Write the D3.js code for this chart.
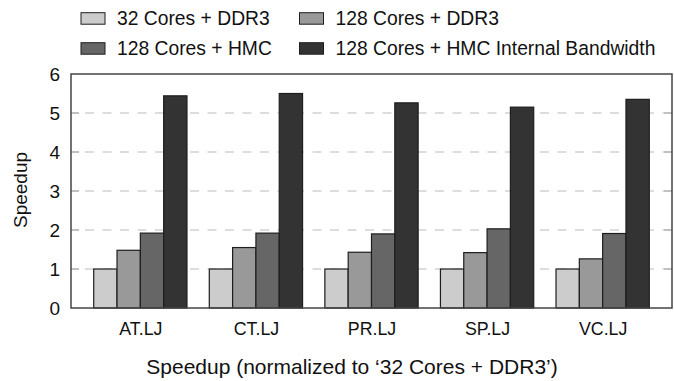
<!DOCTYPE html>
<html>
<head>
<meta charset="utf-8">
<script src="https://cdn.jsdelivr.net/npm/d3@7"></script>
<style>
  body { margin: 0; background: #fff; }
  text { font-family: "Liberation Sans", Arial, Helvetica, sans-serif; fill: #111; }
</style>
</head>
<body>
<svg id="chart" width="674" height="381"></svg>
<script>
var categories = ["AT.LJ", "CT.LJ", "PR.LJ", "SP.LJ", "VC.LJ"];
var seriesNames = ["32 Cores + DDR3", "128 Cores + DDR3", "128 Cores + HMC", "128 Cores + HMC Internal Bandwidth"];
var cores32ddr3 = [1, 1, 1, 1, 1];
var cores128ddr3 = [1.48, 1.55, 1.43, 1.42, 1.26];
var cores128hmc = [1.92, 1.92, 1.90, 2.03, 1.91];
var cores128hmcInt = [5.44, 5.50, 5.26, 5.15, 5.35];
var yTicks = [0, 1, 2, 3, 4, 5, 6];
var colors = ["#cccccc", "#999999", "#666666", "#333333"];

var series = [cores32ddr3, cores128ddr3, cores128hmc, cores128hmcInt];

var svg = d3.select("#chart"),
    margin = {top: 74, right: 2, bottom: 73, left: 71},
    width = +svg.attr("width") - margin.left - margin.right,
    height = +svg.attr("height") - margin.top - margin.bottom;

var x0 = d3.scalePoint().domain(categories).range([0, width]).padding(0.6);
var groupW = x0.step() * 0.807;
var x1 = d3.scaleBand().domain(d3.range(series.length)).range([-groupW / 2, groupW / 2]).padding(0);
var y = d3.scaleLinear().domain([0, 6]).range([height, 0]);

var g = svg.append("g").attr("transform", "translate(" + margin.left + "," + margin.top + ")");

// dashed grid
g.selectAll(".grid")
  .data(yTicks.filter(function(d) { return d > 0 && d < 6; }))
  .enter().append("line")
    .attr("x1", 8).attr("x2", width - 8)
    .attr("y1", function(d) { return y(d); })
    .attr("y2", function(d) { return y(d); })
    .attr("stroke", "#d2d2d2")
    .attr("stroke-width", 1.3)
    .attr("stroke-dasharray", "9,8.5")
    .attr("stroke-dashoffset", -6);

// inward ticks left and right
[0, width].forEach(function(xx, k) {
  g.selectAll(".tk" + k)
    .data(yTicks.filter(function(d) { return d > 0 && d < 6; }))
    .enter().append("line")
      .attr("x1", xx).attr("x2", k ? xx - 8 : xx + 8)
      .attr("y1", function(d) { return y(d); })
      .attr("y2", function(d) { return y(d); })
      .attr("stroke", "#a0a0a0")
      .attr("stroke-width", 1.3);
});

// bars
var groups = g.selectAll(".grp")
  .data(categories)
  .enter().append("g")
    .attr("transform", function(d) { return "translate(" + x0(d) + ",0)"; });

groups.selectAll("rect")
  .data(function(d, i) { return series.map(function(s, j) { return {j: j, v: s[i]}; }); })
  .enter().append("rect")
    .attr("x", function(d) { return x1(d.j); })
    .attr("width", x1.bandwidth())
    .attr("y", function(d) { return y(d.v); })
    .attr("height", function(d) { return height - y(d.v); })
    .attr("fill", function(d) { return colors[d.j]; })
    .attr("stroke", "#1e1e1e")
    .attr("stroke-width", 1.2);

// frame
g.append("rect")
  .attr("x", 0).attr("y", 0)
  .attr("width", width).attr("height", height)
  .attr("fill", "none")
  .attr("stroke", "#444")
  .attr("stroke-width", 1.5);

// y axis labels
var yAxis = d3.axisLeft(y).tickValues(yTicks).tickFormat(d3.format("d")).tickSize(0).tickPadding(11);
g.append("g").call(yAxis)
  .call(function(a) { a.select(".domain").remove(); })
  .selectAll("text")
    .style("font-size", "19px")
    .attr("fill", "#111")
    .attr("font-family", null);

// x axis labels
var xAxis = d3.axisBottom(x0).tickSize(0).tickPadding(14);
g.append("g").attr("transform", "translate(0," + height + ")").call(xAxis)
  .call(function(a) { a.select(".domain").remove(); })
  .selectAll("text")
    .style("font-size", "17.8px")
    .attr("fill", "#111")
    .attr("font-family", null);

// axis titles
svg.append("text")
  .attr("transform", "translate(27,190) rotate(-90)")
  .attr("text-anchor", "middle")
  .style("font-size", "19px")
  .text("Speedup");

svg.append("text")
  .attr("x", 352).attr("y", 374)
  .attr("text-anchor", "middle")
  .style("font-size", "21px")
  .text("Speedup (normalized to \u201832 Cores + DDR3\u2019)");

// legend
var legPos = [[81, 12.7], [299.5, 12.7], [81, 42.7], [299.5, 42.7]];
var leg = svg.selectAll(".leg")
  .data(seriesNames)
  .enter().append("g")
    .attr("transform", function(d, i) { return "translate(" + legPos[i][0] + "," + legPos[i][1] + ")"; });

leg.append("rect")
  .attr("width", 24).attr("height", 11.5)
  .attr("fill", function(d, i) { return colors[i]; })
  .attr("stroke", "#1e1e1e")
  .attr("stroke-width", 1);

leg.append("text")
  .attr("x", 36).attr("y", 12.3)
  .style("font-size", "19.3px")
  .text(function(d) { return d; });
</script>
</body>
</html>
